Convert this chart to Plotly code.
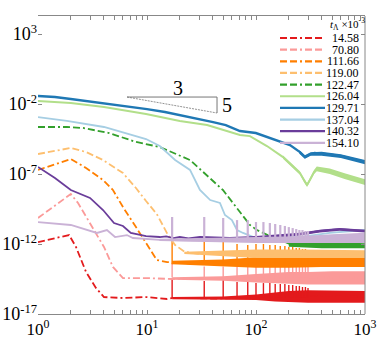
import plotly.graph_objects as go

labels = ['14.58', '70.80', '111.66', '119.00', '122.47', '126.04', '129.71', '137.04', '140.32', '154.10']

red_x = [1, 1.93, 2.23, 2.76, 3.4, 4.03, 6.02, 9.8, 15.3, 17, 25, 40, 70, 100, 200, 400, 1000]
red_ly = [-11.86, -11.36, -12.21, -14.0, -15.14, -15.79, -15.86, -15.79, -15.93, -15.86, -15.86, -15.9, -15.86, -15.8, -15.75, -15.7, -15.75]
red_band_x = [17, 50, 100, 150, 200, 300, 500, 700, 1000]
red_band_hi = [-15.78, -15.75, -15.6, -15.45, -15.35, -15.3, -15.3, -15.3, -15.35]
red_band_lo = [-15.95, -15.98, -16.0, -16.1, -16.15, -16.2, -16.2, -16.2, -16.2]

pink_x = [1, 2, 2.33, 2.76, 3.26, 4.03, 4.87, 6.02, 9.6, 15.3, 17, 30, 60, 100, 200, 400, 1000]
pink_ly = [-10.14, -8.43, -9.07, -10.07, -11.0, -12.21, -13.64, -14.43, -14.43, -14.5, -14.5, -14.45, -14.5, -14.45, -14.4, -14.4, -14.4]
pink_band_x = [17, 50, 100, 200, 300, 500, 1000]
pink_band_hi = [-14.38, -14.3, -14.15, -14.0, -14.0, -13.95, -13.95]
pink_band_lo = [-14.55, -14.62, -14.75, -14.85, -14.9, -14.9, -14.9]

orange_x = [1, 1.37, 2, 2.76, 3.95, 4.87, 6.02, 7.92, 10, 12.3, 15.3, 17, 25, 50, 100, 250, 500, 1000]
orange_ly = [-6.71, -6.36, -5.93, -6.57, -7.43, -8.14, -9.36, -10.79, -12.07, -13.14, -13.29, -13.3, -13.4, -13.4, -13.35, -13.35, -13.3, -13.3]
orange_band_x = [17, 50, 100, 200, 400, 1000]
orange_band_hi = [-13.2, -13.1, -12.95, -12.95, -12.95, -13.0]
orange_band_lo = [-13.45, -13.6, -13.7, -13.7, -13.65, -13.65]

lorange_x = [1, 2, 2.76, 3.95, 6.02, 7.92, 9.8, 12.3, 15.6, 18.1, 22.3, 30, 60, 100, 250, 500, 1000]
lorange_ly = [-5.57, -5.14, -5.43, -6.0, -6.93, -8.0, -8.93, -9.86, -11.36, -12.07, -12.57, -12.7, -12.7, -12.7, -12.7, -12.65, -12.7]
lorange_band_x = [22, 50, 100, 250, 500, 1000]
lorange_band_hi = [-12.55, -12.48, -12.4, -12.4, -12.4, -12.45]
lorange_band_lo = [-12.72, -12.85, -13.0, -13.0, -13.0, -13.0]

green_x = [1, 1.84, 2.59, 4.48, 7.92, 13.1, 24.8, 49.7, 71.2, 88, 102, 134, 205, 385, 1000]
green_ly = [-3.64, -3.64, -3.71, -4.07, -4.71, -5.07, -6.0, -8.14, -9.71, -10.64, -11.0, -11.43, -12.0, -12.07, -12.14]
green_band_x = [200, 400, 700, 1000]
green_band_hi = [-11.86, -11.86, -11.9, -11.95]
green_band_lo = [-12.2, -12.3, -12.3, -12.3]

lgreen_x = [1, 2, 4.03, 9.8, 20, 35.6, 71.2, 88, 126, 177, 253, 274, 294, 312, 341, 361, 475, 650, 1000]
lgreen_ly = [-1.79, -1.93, -2.21, -2.71, -3.21, -3.5, -4.21, -4.29, -5.0, -5.79, -6.93, -7.43, -7.79, -7.43, -6.86, -6.64, -6.79, -7.14, -7.57]
lgreen_band_x = [177, 253, 274, 294, 312, 341, 361, 475, 650, 1000]
lgreen_band_hi = [-5.68, -6.8, -7.3, -7.65, -7.3, -6.72, -6.47, -6.6, -6.95, -7.38]
lgreen_band_lo = [-5.9, -7.06, -7.56, -7.92, -7.56, -7.0, -6.8, -7.0, -7.35, -7.78]

blue_x = [1, 1.43, 2, 2.87, 4.03, 6.28, 10, 14.6, 20, 28.8, 40.4, 52.8, 71.2, 99.6, 126, 149, 177, 205, 253, 281, 317, 344, 425, 511, 600, 723, 860, 1000]
blue_ly = [-1.43, -1.5, -1.64, -1.79, -1.93, -2.14, -2.36, -2.57, -2.79, -3.0, -3.29, -3.5, -3.93, -4.07, -4.36, -4.57, -4.79, -4.93, -5.43, -5.79, -5.57, -5.5, -5.57, -5.64, -5.71, -5.86, -6.0, -6.14]
blue_band_x = [250, 281, 317, 400, 600, 1000]
blue_band_hi = [-5.3, -5.65, -5.45, -5.4, -5.58, -6.0]
blue_band_lo = [-5.55, -5.9, -5.7, -5.7, -5.85, -6.3]

lblue_x = [1, 1.84, 4.03, 9.8, 13.1, 18.1, 24.8, 30.6, 38, 46.7, 51.9, 60.1, 67, 76, 100, 253, 475, 1000]
lblue_ly = [-2.93, -3.21, -3.64, -4.5, -5.0, -6.0, -6.71, -8.14, -8.86, -9.07, -9.93, -10.29, -11.0, -11.21, -11.57, -11.5, -11.21, -11.0]

purple_x = [1, 1.43, 2, 3, 3.95, 4.98, 6.02, 7.1, 9.8, 13.1, 15, 17.5, 20, 24, 30.6, 40, 57.5, 100, 166, 253, 385, 586, 1000]
purple_ly = [-6.5, -7.29, -8.14, -8.71, -9.57, -10.5, -10.71, -11.21, -11.43, -11.5, -11.45, -11.58, -11.5, -11.6, -11.5, -11.55, -11.57, -11.5, -11.5, -11.29, -11.07, -10.93, -11.07]
purple_band_x = [100, 253, 385, 586, 1000]
purple_band_hi = [-11.42, -11.2, -10.98, -10.85, -10.98]
purple_band_lo = [-11.58, -11.4, -11.18, -11.05, -11.18]

lav_x = [1, 2, 3.47, 4.29, 5.09, 6.55, 7.43, 9.8, 13.1, 30.6, 100, 253, 1000]
lav_ly = [-10.43, -10.64, -11.21, -11.0, -11.5, -11.36, -11.57, -11.64, -11.71, -11.75, -11.75, -11.7, -11.6]
lav_band_x = [13, 30, 100, 250, 500, 1000]
lav_band_hi = [-11.62, -11.58, -11.5, -11.45, -11.3, -11.2]
lav_band_lo = [-11.78, -11.85, -11.93, -11.93, -11.93, -11.93]

# periodic spikes in the late-time signal
spike_x = [17, 33.5, 50, 67, 84, 100, 117, 134, 150, 167, 184, 200, 217, 234, 250, 267, 284, 300]
lav_spike_hi = [-10.07, -10.07, -10.14, -10.29, -10.29, -10.43, -10.43, -10.5, -10.57, -10.64, -10.71, -10.79, -10.86, -10.93, -11.0, -11.0, -11.07, -11.07]
orange_spike_hi = [-11.64, -11.71, -11.86, -12.0, -12.07, -12.0, -12.0, -12.07, -12.07, -12.14, -12.14, -12.21, -12.21, -12.29, -12.29, -12.36, -12.36, -12.43]
pink_spike_hi = [-13.36, -13.6, -13.6, -13.6, -13.55, -13.55, -13.5, -13.5, -13.5, -13.5, -13.5, -13.5, -13.5, -13.5, -13.5, -13.5, -13.5, -13.5]
red_spike_hi = [-14.43, -14.64, -14.57, -14.71, -14.71, -14.79, -14.79, -14.79, -14.86, -14.86, -14.86, -14.93, -14.93, -15.0, -15.0, -15.07, -15.07, -15.14]
lav_spike_base = -11.8
orange_spike_base = -13.45
pink_spike_base = -14.4
red_spike_base = -15.85

x_tick_vals = [1, 2, 3, 4, 5, 6, 7, 8, 9, 10, 20, 30, 40, 50, 60, 70, 80, 90,
               100, 200, 300, 400, 500, 600, 700, 800, 900, 1000]
x_tick_text = ['10<sup>0</sup>'] + [''] * 8 + ['10<sup>1</sup>'] + [''] * 8 + ['10<sup>2</sup>'] + [''] * 8 + ['10<sup>3</sup>']
y_tick_vals = [1e3, 1e-2, 1e-7, 1e-12, 1e-17]
y_tick_text = ['10<sup>3</sup>', '10<sup>-2</sup>', '10<sup>-7</sup>', '10<sup>-12</sup>', '10<sup>-17</sup>']

colors = ['#e31a1c', '#fb9a99', '#ff7f00', '#fdbf6f', '#33a02c', '#b2df8a', '#1f78b4', '#a6cee3', '#6a3d9a', '#cab2d6']
DASH = '7px,3px,7px,3px,2px,3px'
SERIF = 'Liberation Serif, Times New Roman, serif'

W, H = 380, 338
L, R, T, B = 38, 15, 16, 24


def pw(v):
    return [10 ** e for e in v]


def add_line(fig, x, ly, color, dash, width=1.8):
    fig.add_trace(go.Scatter(x=x, y=pw(ly), mode='lines', showlegend=False,
                             line=dict(color=color, width=width, dash=dash)))


def add_band(fig, x, hi, lo, color):
    fig.add_trace(go.Scatter(x=x, y=pw(lo), mode='lines', showlegend=False,
                             line=dict(width=0, color=color)))
    fig.add_trace(go.Scatter(x=x, y=pw(hi), mode='lines', showlegend=False,
                             line=dict(width=0, color=color), fill='tonexty', fillcolor=color))


def add_spikes(fig, hi, base, color, width=1.4):
    xs, ys = [], []
    for sx, h in zip(spike_x, hi):
        xs += [sx, sx, None]
        ys += [10 ** base, 10 ** h, None]
    fig.add_trace(go.Scatter(x=xs, y=ys, mode='lines', showlegend=False,
                             line=dict(color=color, width=width)))


fig = go.Figure()

add_band(fig, red_band_x, red_band_hi, red_band_lo, colors[0])
add_line(fig, red_x, red_ly, colors[0], DASH)
add_spikes(fig, red_spike_hi, red_spike_base, colors[0])

add_band(fig, pink_band_x, pink_band_hi, pink_band_lo, colors[1])
add_line(fig, pink_x, pink_ly, colors[1], DASH)
add_spikes(fig, pink_spike_hi, pink_spike_base, colors[1])

add_band(fig, orange_band_x, orange_band_hi, orange_band_lo, colors[2])
add_line(fig, orange_x, orange_ly, colors[2], DASH)
add_spikes(fig, orange_spike_hi, orange_spike_base, colors[2])

add_band(fig, lorange_band_x, lorange_band_hi, lorange_band_lo, colors[3])
add_line(fig, lorange_x, lorange_ly, colors[3], DASH)

add_band(fig, green_band_x, green_band_hi, green_band_lo, colors[4])
add_line(fig, green_x, green_ly, colors[4], DASH)

add_band(fig, lgreen_band_x, lgreen_band_hi, lgreen_band_lo, colors[5])
add_line(fig, lgreen_x, lgreen_ly, colors[5], 'solid', 2)

add_band(fig, blue_band_x, blue_band_hi, blue_band_lo, colors[6])
add_line(fig, blue_x, blue_ly, colors[6], 'solid', 2.4)

add_line(fig, lblue_x, lblue_ly, colors[7], 'solid')

add_band(fig, purple_band_x, purple_band_hi, purple_band_lo, colors[8])
add_line(fig, purple_x, purple_ly, colors[8], 'solid')

add_band(fig, lav_band_x, lav_band_hi, lav_band_lo, colors[9])
add_line(fig, lav_x, lav_ly, colors[9], 'solid')
add_spikes(fig, lav_spike_hi, lav_spike_base, colors[9], 2.2)

# slope triangle (3 : 5)
tri_x0, tri_x1 = 6.56, 43.9
tri_y0, tri_y1 = 10 ** -1.5, 10 ** -2.64
fig.add_trace(go.Scatter(x=[tri_x0, tri_x1, tri_x1], y=[tri_y0, tri_y0, tri_y1], mode='lines',
                         showlegend=False, line=dict(color='#777777', width=1)))
fig.add_trace(go.Scatter(x=[tri_x0, tri_x1], y=[tri_y0, tri_y1], mode='lines',
                         showlegend=False, line=dict(color='#777777', width=0.8, dash='2px,1px')))


def px2paper(px, py):
    return (px - L) / (W - L - R), (H - B - py) / (H - T - B)


annotations = []
for txt, (px, py) in [('3', (178, 88)), ('5', (227, 105))]:
    ax_, ay_ = px2paper(px, py)
    annotations.append(dict(text=txt, x=ax_, y=ay_, xref='paper', yref='paper', showarrow=False,
                            xanchor='center', yanchor='middle',
                            font=dict(family=SERIF, size=20, color='black')))

# hand-made legend
shapes = []
for i, (lab, col) in enumerate(zip(labels, colors)):
    py = 38 + i * 11.65
    x0, yy = px2paper(280, py)
    x1, _ = px2paper(325, py)
    shapes.append(dict(type='line', xref='paper', yref='paper', x0=x0, x1=x1, y0=yy, y1=yy,
                       line=dict(color=col, width=2.2, dash=DASH if i < 5 else 'solid')))
    tx, _ = px2paper(361, py)
    annotations.append(dict(text=lab, x=tx, y=yy, xref='paper', yref='paper', xanchor='right',
                            yanchor='middle', showarrow=False,
                            font=dict(family=SERIF, size=12, color='black')))
tx, ty = px2paper(367, 24)
annotations.append(dict(text='<i>t</i><sub>Λ</sub> ×10<sup>-3</sup>', x=tx, y=ty, xref='paper', yref='paper',
                        xanchor='right', yanchor='middle', showarrow=False,
                        font=dict(family=SERIF, size=11, color='black')))

# right frame line (no left spine in the original)
shapes.append(dict(type='line', xref='paper', yref='paper', x0=1, x1=1, y0=0, y1=1,
                   line=dict(color='#888888', width=1)))

fig.update_layout(
    width=W, height=H,
    margin=dict(l=L, r=R, t=T, b=B),
    paper_bgcolor='white', plot_bgcolor='white',
    showlegend=False,
    font=dict(family=SERIF, color='black'),
    shapes=shapes, annotations=annotations,
    xaxis=dict(type='log', range=[0, 3], tickvals=x_tick_vals, ticktext=x_tick_text,
               ticks='inside', ticklen=4, tickcolor='#888888', showline=True, linecolor='#888888',
               mirror='ticks', showgrid=False, zeroline=False, automargin=False,
               tickfont=dict(family=SERIF, size=17, color='black')),
    yaxis=dict(type='log', range=[-17, 4.29], tickvals=y_tick_vals, ticktext=y_tick_text,
               ticks='inside', ticklen=4, tickcolor='#888888', showline=False,
               mirror='ticks', showgrid=False, zeroline=False, automargin=False,
               tickfont=dict(family=SERIF, size=18, color='black')),
)

# drop the page's default body margin so the figure sits at the window corner
fig.write_html("out.html", config={'displayModeBar': False},
               post_script="document.body.style.margin='0px';")
